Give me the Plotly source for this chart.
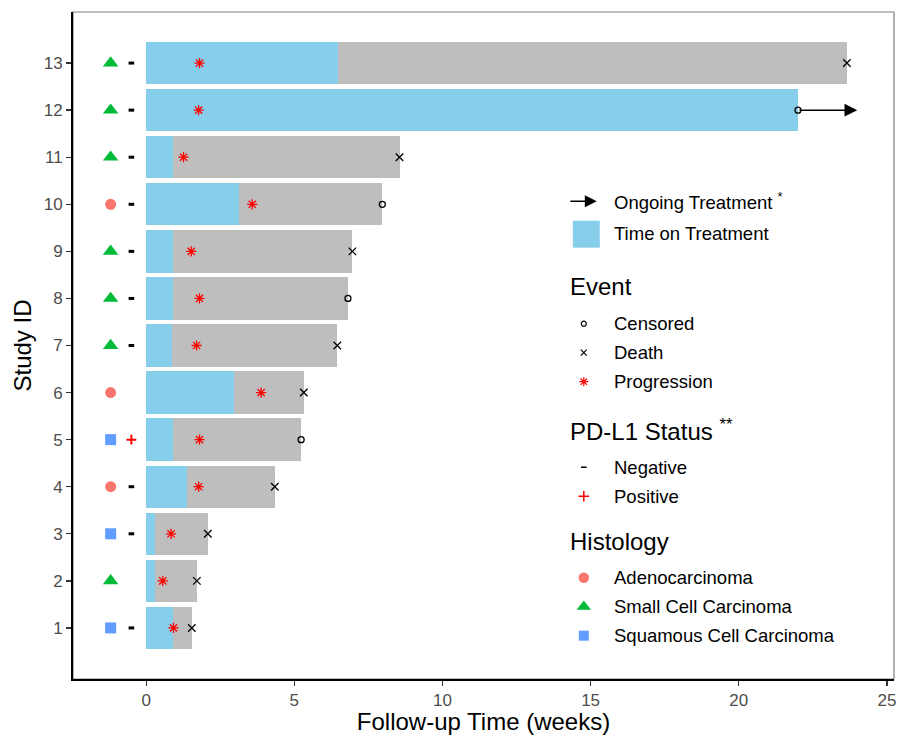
import plotly.graph_objects as go

# ---------------- data ----------------
study_id = list(range(1, 14))
treatment_weeks = [0.92, 0.30, 0.30, 1.38, 0.90, 2.96, 0.86, 0.92, 0.92, 3.13, 0.92, 22.0, 6.46]
followup_weeks = [1.54, 1.71, 2.08, 4.34, 5.23, 5.32, 6.45, 6.81, 6.96, 7.97, 8.55, 22.0, 23.65]
progression_weeks = [0.92, 0.56, 0.84, 1.77, 1.80, 3.88, 1.70, 1.80, 1.52, 3.58, 1.26, 1.77, 1.80]
event_type = ["Death", "Death", "Death", "Death", "Censored", "Death", "Death",
              "Censored", "Death", "Censored", "Death", "Censored", "Death"]
histology = ["Squamous Cell Carcinoma", "Small Cell Carcinoma", "Squamous Cell Carcinoma",
             "Adenocarcinoma", "Squamous Cell Carcinoma", "Adenocarcinoma",
             "Small Cell Carcinoma", "Small Cell Carcinoma", "Small Cell Carcinoma",
             "Adenocarcinoma", "Small Cell Carcinoma", "Small Cell Carcinoma",
             "Small Cell Carcinoma"]
pdl1_status = ["Negative", "", "Negative", "Negative", "Positive", "", "Negative",
               "Negative", "Negative", "Negative", "Negative", "Negative", "Negative"]
ongoing_ids = [12]
ongoing_arrow_end = [24.0]

x_ticks = [0, 5, 10, 15, 20, 25]
y_ticks = study_id
y_tick_labels = [str(i) for i in study_id]

event_labels = ["Censored", "Death", "Progression"]
pdl1_labels = ["Negative", "Positive"]
histology_labels = ["Adenocarcinoma", "Small Cell Carcinoma", "Squamous Cell Carcinoma"]

# ---------------- styles ----------------
FONT = "Liberation Sans, Arial, Helvetica, sans-serif"
BLUE = "#87CEEB"
GRAY = "#BEBEBE"
RED = "#FF0000"
HIST_COLORS = {"Adenocarcinoma": "#F8766D", "Small Cell Carcinoma": "#00BA38",
               "Squamous Cell Carcinoma": "#619CFF"}
HIST_SYMBOLS = {"Adenocarcinoma": "circle", "Small Cell Carcinoma": "triangle-up",
                "Squamous Cell Carcinoma": "square"}
HIST_SIZES = {"Adenocarcinoma": 11, "Small Cell Carcinoma": 13.5,
              "Squamous Cell Carcinoma": 11}
HIST_KEY_SIZES = {"Adenocarcinoma": 10.5, "Small Cell Carcinoma": 12.5,
                  "Squamous Cell Carcinoma": 10}
HIST_X = -1.2
PDL1_X = -0.5

fig = go.Figure()

# bars: total follow-up (gray) then time on treatment (blue)
fig.add_trace(go.Bar(y=study_id, x=followup_weeks, base=0, orientation="h", width=0.9,
                     marker=dict(color=GRAY, line=dict(width=0)), showlegend=False))
fig.add_trace(go.Bar(y=study_id, x=treatment_weeks, base=0, orientation="h", width=0.9,
                     marker=dict(color=BLUE, line=dict(width=0)), showlegend=False))

# progression
fig.add_trace(go.Scatter(x=progression_weeks, y=study_id, mode="markers",
                         marker=dict(symbol="asterisk-open", size=8.5, color=RED,
                                     line=dict(color=RED, width=1.3)), showlegend=False))
# events
for ev, sym, sz in [("Censored", "circle-open", 6), ("Death", "x-thin-open", 7.5)]:
    xs = [f for f, e in zip(followup_weeks, event_type) if e == ev]
    ys = [s for s, e in zip(study_id, event_type) if e == ev]
    fig.add_trace(go.Scatter(x=xs, y=ys, mode="markers",
                             marker=dict(symbol=sym, size=sz, color="black",
                                         line=dict(color="black", width=1.3)),
                             showlegend=False))

# histology
for h in histology_labels:
    ys = [s for s, hh in zip(study_id, histology) if hh == h]
    fig.add_trace(go.Scatter(x=[HIST_X] * len(ys), y=ys, mode="markers",
                             marker=dict(symbol=HIST_SYMBOLS[h], size=HIST_SIZES[h],
                                         color=HIST_COLORS[h], line=dict(width=0)),
                             showlegend=False))

# PD-L1
neg = [s for s, p in zip(study_id, pdl1_status) if p == "Negative"]
pos = [s for s, p in zip(study_id, pdl1_status) if p == "Positive"]
fig.add_trace(go.Scatter(x=[PDL1_X] * len(neg), y=neg, mode="markers",
                         marker=dict(symbol="line-ew-open", size=4, color="black",
                                     line=dict(color="black", width=3)), showlegend=False))
fig.add_trace(go.Scatter(x=[PDL1_X] * len(pos), y=pos, mode="markers",
                         marker=dict(symbol="cross-thin-open", size=7, color=RED,
                                     line=dict(color=RED, width=2)), showlegend=False))

annotations = []
# ongoing treatment arrows
for sid, xend in zip(ongoing_ids, ongoing_arrow_end):
    fstart = followup_weeks[study_id.index(sid)]
    annotations.append(dict(x=xend, y=sid, ax=fstart, ay=sid, xref="x", yref="y",
                            axref="x", ayref="y", text="", showarrow=True,
                            arrowhead=2, arrowsize=1.7, arrowwidth=1.5,
                            arrowcolor="black"))

# ---------------- manual legend (pixel coordinates on overlay axes) ----------------
LX_KEY = 584
LX_TXT = 612
LBL = dict(family=FONT, size=18.5, color="black")
TTL = dict(family=FONT, size=24, color="black")


def txt(x, y, s, font):
    annotations.append(dict(x=x, y=y, xref="x2", yref="y2", text=s, showarrow=False,
                            xanchor="left", yanchor="middle", font=font))


def key(y, symbol, size, color, lw=0):
    fig.add_trace(go.Scatter(x=[LX_KEY], y=[y], xaxis="x2", yaxis="y2", mode="markers",
                             opacity=1,
                             marker=dict(symbol=symbol, size=size, color=color, opacity=1,
                                         line=dict(color=color, width=lw)),
                             showlegend=False, hoverinfo="skip"))


annotations.append(dict(x=597, y=201.5, ax=569, ay=201.5, xref="x2", yref="y2",
                        axref="x2", ayref="y2", text="", showarrow=True, arrowhead=2,
                        arrowsize=1.5, arrowwidth=1.6, arrowcolor="black"))
txt(LX_TXT, 201.5, "Ongoing Treatment <sup>*</sup>", LBL)
txt(LX_TXT, 234, "Time on Treatment", LBL)

txt(568, 287, "Event", TTL)
ev_y = [324, 353, 382]
ev_sym = ["circle-open", "x-thin-open", "asterisk-open"]
ev_col = ["black", "black", RED]
ev_size = [5, 6, 7.5]
for lab, yy, sy, sz, cl in zip(event_labels, ev_y, ev_sym, ev_size, ev_col):
    txt(LX_TXT, yy, lab, LBL)
    key(yy, sy, sz, cl, 1.2)

txt(568, 430, "PD-L1 Status <sup>**</sup>", TTL)
pd_y = [467.5, 496.5]
pd_sym = ["line-ew-open", "cross-thin-open"]
pd_size = [4, 7.5]
pd_col = ["black", RED]
for lab, yy, sy, sz, cl in zip(pdl1_labels, pd_y, pd_sym, pd_size, pd_col):
    txt(LX_TXT, yy, lab, LBL)
    key(yy, sy, sz, cl, 1.5)

txt(568, 542, "Histology", TTL)
hi_y = [578, 607, 636]
for lab, yy in zip(histology_labels, hi_y):
    txt(LX_TXT, yy, lab, LBL)
    key(yy, HIST_SYMBOLS[lab], HIST_KEY_SIZES[lab], HIST_COLORS[lab], 0)

shapes = [
    dict(type="rect", xref="paper", yref="paper", x0=0, x1=1, y0=0, y1=1,
         line=dict(color="#7F7F7F", width=1.2), layer="below"),
    dict(type="rect", xref="x2", yref="y2", x0=573, x1=600, y0=221, y1=248,
         fillcolor=BLUE, line=dict(width=0), layer="above"),
]

fig.update_layout(
    width=899, height=735,
    margin=dict(l=73, r=5, t=12, b=56),
    paper_bgcolor="white", plot_bgcolor="white",
    barmode="overlay", bargap=0,
    font=dict(family=FONT, color="black"),
    showlegend=False,
    hovermode=False,
    annotations=annotations,
    shapes=shapes,
    xaxis=dict(range=[-2.47, 25.24], tickvals=x_ticks, ticks="outside", ticklen=5,
               tickwidth=1.3, tickcolor="#333333", showline=True, linecolor="black",
               linewidth=2, showgrid=False, zeroline=False,
               tickfont=dict(family=FONT, size=17, color="#4D4D4D"),
               title=dict(text="Follow-up Time (weeks)", standoff=12,
                          font=dict(family=FONT, size=24, color="black")),
               automargin=False),
    yaxis=dict(range=[-0.085, 14.085], tickvals=y_ticks, ticktext=y_tick_labels,
               ticks="outside", ticklen=5, tickwidth=1.3, tickcolor="#333333",
               showline=True, linecolor="black", linewidth=2, showgrid=False,
               zeroline=False, tickfont=dict(family=FONT, size=17, color="#4D4D4D"),
               title=dict(text="Study ID", standoff=5,
                          font=dict(family=FONT, size=24, color="black")),
               automargin=False),
    xaxis2=dict(overlaying="x", anchor="y2", range=[73, 894.3], visible=False,
                fixedrange=True),
    yaxis2=dict(overlaying="y", anchor="x2", range=[679.3, 12.3], visible=False,
                fixedrange=True),
)

fig.write_html("out.html", config={"displayModeBar": False, "staticPlot": True},
               post_script="document.body.style.margin='0';document.body.style.padding='0';")
